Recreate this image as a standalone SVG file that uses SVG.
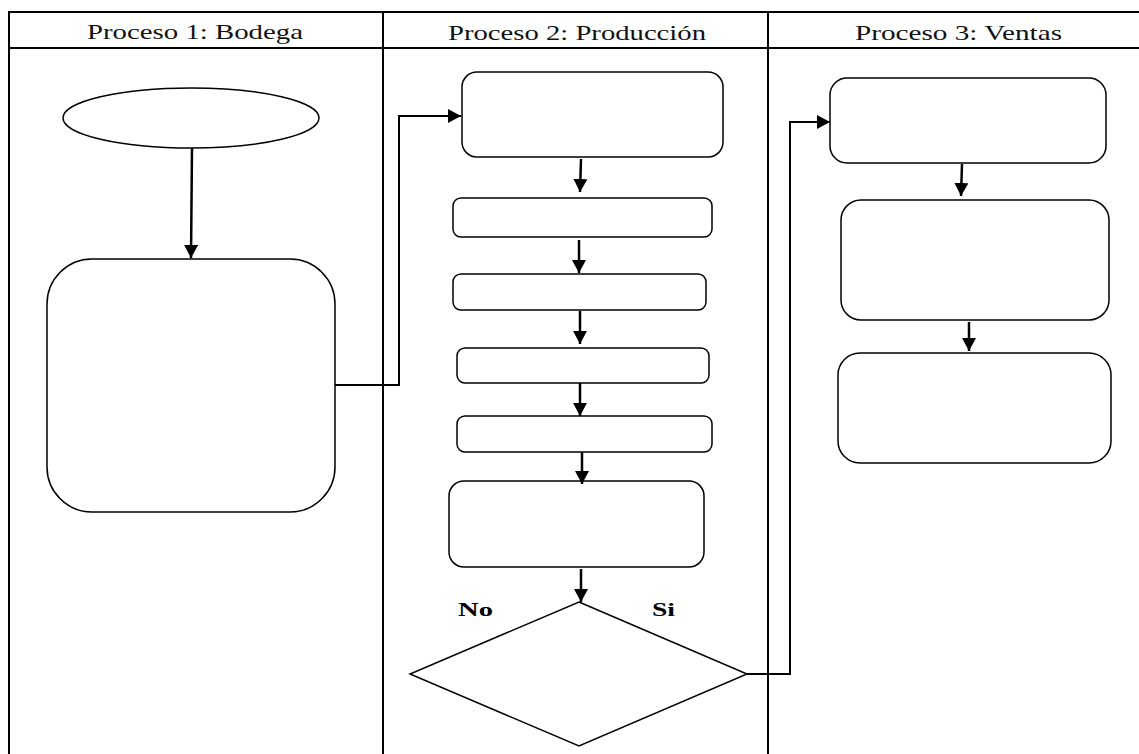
<svg xmlns="http://www.w3.org/2000/svg" width="1139" height="754" viewBox="0 0 1139 754">
  <style>
    .frame { stroke: #000; stroke-width: 2; fill: none; }
    .node { fill: #fff; stroke: #000; stroke-width: 1.5; }
    .flow { fill: none; stroke: #000; stroke-width: 2.5; }
    .link { fill: none; stroke: #000; stroke-width: 2; }
    .head { font-family: "Liberation Serif", "Times New Roman", serif; font-size: 21px; fill: #111; }
    .tag { font-family: "Liberation Serif", "Times New Roman", serif; font-size: 18px; font-weight: bold; fill: #000; }
  </style>
  <defs>
    <marker id="arrow" markerUnits="userSpaceOnUse" markerWidth="14" markerHeight="14" refX="13" refY="7" orient="auto">
      <path d="M0,0 L13,7 L0,14 Z" fill="#000"/>
    </marker>
  </defs>
  <rect x="0" y="0" width="1139" height="754" fill="#fff"/>

  <!-- swimlane table -->
  <g id="lanes">
    <line class="frame" x1="8" y1="12" x2="1139" y2="12"/>
    <line class="frame" x1="8" y1="48" x2="1139" y2="48"/>
    <line class="frame" x1="9" y1="11" x2="9" y2="754"/>
    <line class="frame" x1="383" y1="11" x2="383" y2="754"/>
    <line class="frame" x1="768" y1="11" x2="768" y2="754"/>
    <text class="head" x="87" y="39" textLength="216" lengthAdjust="spacingAndGlyphs">Proceso 1: Bodega</text>
    <text class="head" x="448" y="40" textLength="258" lengthAdjust="spacingAndGlyphs">Proceso 2: Producción</text>
    <text class="head" x="855" y="40" textLength="207" lengthAdjust="spacingAndGlyphs">Proceso 3: Ventas</text>
  </g>

  <!-- Proceso 1: Bodega -->
  <g id="inicio"><ellipse class="node" cx="191" cy="118" rx="128" ry="30"/></g>
  <g id="bodega"><rect class="node" x="47" y="259" width="288" height="253" rx="45" ry="45"/></g>

  <!-- Proceso 2: Producción -->
  <g id="prod1"><rect class="node" x="462" y="72" width="261" height="85" rx="15" ry="15"/></g>
  <g id="prod2"><rect class="node" x="453" y="198" width="259" height="39" rx="8" ry="8"/></g>
  <g id="prod3"><rect class="node" x="453" y="274" width="253" height="36" rx="8" ry="8"/></g>
  <g id="prod4"><rect class="node" x="457" y="348" width="252" height="35" rx="8" ry="8"/></g>
  <g id="prod5"><rect class="node" x="457" y="416" width="255" height="36" rx="8" ry="8"/></g>
  <g id="prod6"><rect class="node" x="449" y="481" width="255" height="86" rx="15" ry="15"/></g>
  <g id="decision">
    <polygon class="node" points="579,602 747,674 579,746 410,674"/>
    <text class="tag" x="458" y="616" textLength="35" lengthAdjust="spacingAndGlyphs">No</text>
    <text class="tag" x="652" y="616" textLength="23" lengthAdjust="spacingAndGlyphs">Si</text>
  </g>

  <!-- Proceso 3: Ventas -->
  <g id="venta1"><rect class="node" x="830" y="78" width="276" height="85" rx="17" ry="17"/></g>
  <g id="venta2"><rect class="node" x="841" y="200" width="268" height="120" rx="20" ry="20"/></g>
  <g id="venta3"><rect class="node" x="838" y="353" width="273" height="110" rx="22" ry="22"/></g>

  <!-- connectors -->
  <g id="connectors">
    <path class="flow" d="M192,148 L191,258" marker-end="url(#arrow)"/>
    <path class="link" d="M335,385 L399,385 L399,116 L461,116" marker-end="url(#arrow)"/>
    <path class="flow" d="M581,159 L580,192" marker-end="url(#arrow)"/>
    <path class="flow" d="M579,240 L579,273" marker-end="url(#arrow)"/>
    <path class="flow" d="M580,311 L580,344" marker-end="url(#arrow)"/>
    <path class="flow" d="M580,383 L580,416" marker-end="url(#arrow)"/>
    <path class="flow" d="M582,452 L582,484" marker-end="url(#arrow)"/>
    <path class="flow" d="M581,569 L581,602" marker-end="url(#arrow)"/>
    <path class="link" d="M747,674 L790,674 L790,122 L830,122" marker-end="url(#arrow)"/>
    <path class="flow" d="M962,164 L961,196" marker-end="url(#arrow)"/>
    <path class="flow" d="M969,322 L969,351" marker-end="url(#arrow)"/>
  </g>
</svg>
